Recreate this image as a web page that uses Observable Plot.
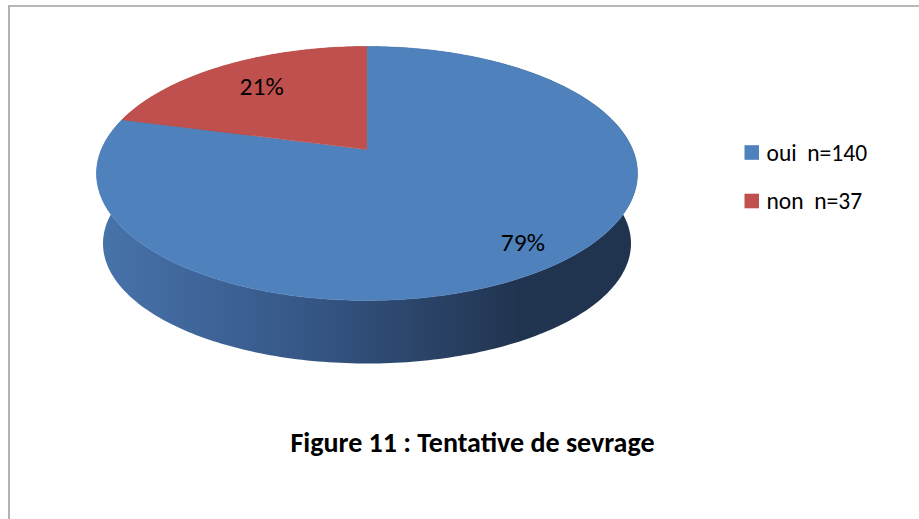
<!DOCTYPE html>
<html>
<head>
<meta charset="utf-8">
<script src="https://cdn.jsdelivr.net/npm/d3@7"></script>
<script src="https://cdn.jsdelivr.net/npm/@observablehq/plot@0.6"></script>
<style>
  html, body { margin: 0; padding: 0; background: #fff; }
  svg text { white-space: pre; }
</style>
</head>
<body>
<div id="chart"></div>
<script>
// ---- data ----
const categories = ["oui", "non"];
const counts = [140, 37];
const legendLabels = ["oui  n=140", "non  n=37"];
const titleText = "Figure 11 : Tentative de sevrage";

// ---- styles / layout ----
const topColors = ["#4f81bd", "#c0504d"];
const wallFills = ["url(#wallBlue)", "url(#wallRed)"];
const labelRho = [0.84, 0.72];
const G = {cx: 366.5, cy: 173, rx: 270.5, ry: 127, a: -0.189, cyB: 243, rxB: 264, ryB: 120};
const W = 919, H = 519;
const FONT = "Carlito, Calibri, Lato, sans-serif";

// perspective projection of a point on the unit disc (theta clockwise from 12 o'clock)
function proj(theta, rho, bottom) {
  const u = rho * Math.sin(theta), v = -rho * Math.cos(theta);
  const d = 1 + G.a * v;
  const up = u * Math.sqrt(1 - G.a * G.a) / d;
  const vp = (v + G.a) / d;
  return bottom
    ? {x: G.cx + G.rxB * up, y: G.cyB + G.ryB * vp}
    : {x: G.cx + G.rx * up, y: G.cy + G.ry * vp};
}
function arc(a0, a1, rho, bottom) {
  const n = Math.max(2, Math.ceil(Math.abs(a1 - a0) / (2 * Math.PI) * 360));
  const pts = [];
  for (let i = 0; i <= n; i++) pts.push(proj(a0 + (a1 - a0) * i / n, rho, bottom));
  return pts;
}

const total = d3.sum(counts);
const arcs = d3.pie().sort(null).startAngle(0).endAngle(2 * Math.PI)(counts);

const tops = [], walls = [], labels = [];
arcs.forEach((s, i) => {
  const c = proj(0, 0, false);
  [c, ...arc(s.startAngle, s.endAngle, 1, false)].forEach(p => tops.push({...p, k: i}));
  [...arc(s.startAngle, s.endAngle, 1, false), ...arc(s.endAngle, s.startAngle, 1, true)]
    .forEach(p => walls.push({...p, k: i}));
  const m = (s.startAngle + s.endAngle) / 2;
  labels.push({...proj(m, labelRho[i], false), text: Math.round(s.value / total * 100) + "%"});
});

const legend = categories.map((c, i) => ({i, label: legendLabels[i], color: topColors[i], y: 152.5 + i * 48.5}));

const marks = [];
// walls (sides) first
arcs.forEach((s, i) => {
  marks.push(Plot.line(walls.filter(d => d.k === i), {x: "x", y: "y", fill: wallFills[i], stroke: "none"}));
});
// top faces
arcs.forEach((s, i) => {
  marks.push(Plot.line(tops.filter(d => d.k === i), {x: "x", y: "y", fill: topColors[i], stroke: topColors[i], strokeWidth: 0.5}));
});
marks.push(Plot.text(labels, {x: "x", y: "y", text: "text", fontSize: 25.5, fill: "#000", lineAnchor: "middle", textAnchor: "middle", fontFamily: FONT}));
// legend
marks.push(Plot.rect(legend, {x1: 744.5, x2: 759, y1: d => d.y - 7.3, y2: d => d.y + 7.3, fill: "color"}));
marks.push(Plot.text(legend, {x: 766, y: "y", text: "label", fontSize: 23.5, fill: "#000", textAnchor: "start", lineAnchor: "middle", fontFamily: FONT}));
// title
marks.push(Plot.text([titleText], {x: 472, y: 443, text: d => d, fontSize: 28, fontWeight: "bold", fill: "#000", textAnchor: "middle", lineAnchor: "middle", fontFamily: FONT}));
// border
marks.push(Plot.ruleX([8.5], {y1: 5.5, y2: H, stroke: "#a0a0a0", strokeWidth: 1.6}));
marks.push(Plot.ruleY([5.5], {x1: 8.5, x2: W, stroke: "#a0a0a0", strokeWidth: 1.6}));

const chart = Plot.plot({
  width: W, height: H,
  margin: 0,
  x: {domain: [0, W], range: [0, W], axis: null},
  y: {domain: [0, H], range: [0, H], axis: null},
  color: {type: "identity"},
  style: {background: "#fff", fontFamily: FONT},
  marks
});

d3.select(chart).insert("defs", ":first-child").html(`
  <linearGradient id="wallBlue" gradientUnits="userSpaceOnUse" x1="100" y1="0" x2="520" y2="0">
    <stop offset="0" stop-color="#4773ab"/>
    <stop offset="0.45" stop-color="#37598a"/>
    <stop offset="1" stop-color="#21344f"/>
  </linearGradient>
  <linearGradient id="wallRed" gradientUnits="userSpaceOnUse" x1="100" y1="0" x2="520" y2="0">
    <stop offset="0" stop-color="#a8433f"/>
    <stop offset="1" stop-color="#5e2220"/>
  </linearGradient>
`);
d3.select(chart).selectAll("text").attr("xml:space", "preserve");
document.getElementById("chart").appendChild(chart);
</script>
</body>
</html>
